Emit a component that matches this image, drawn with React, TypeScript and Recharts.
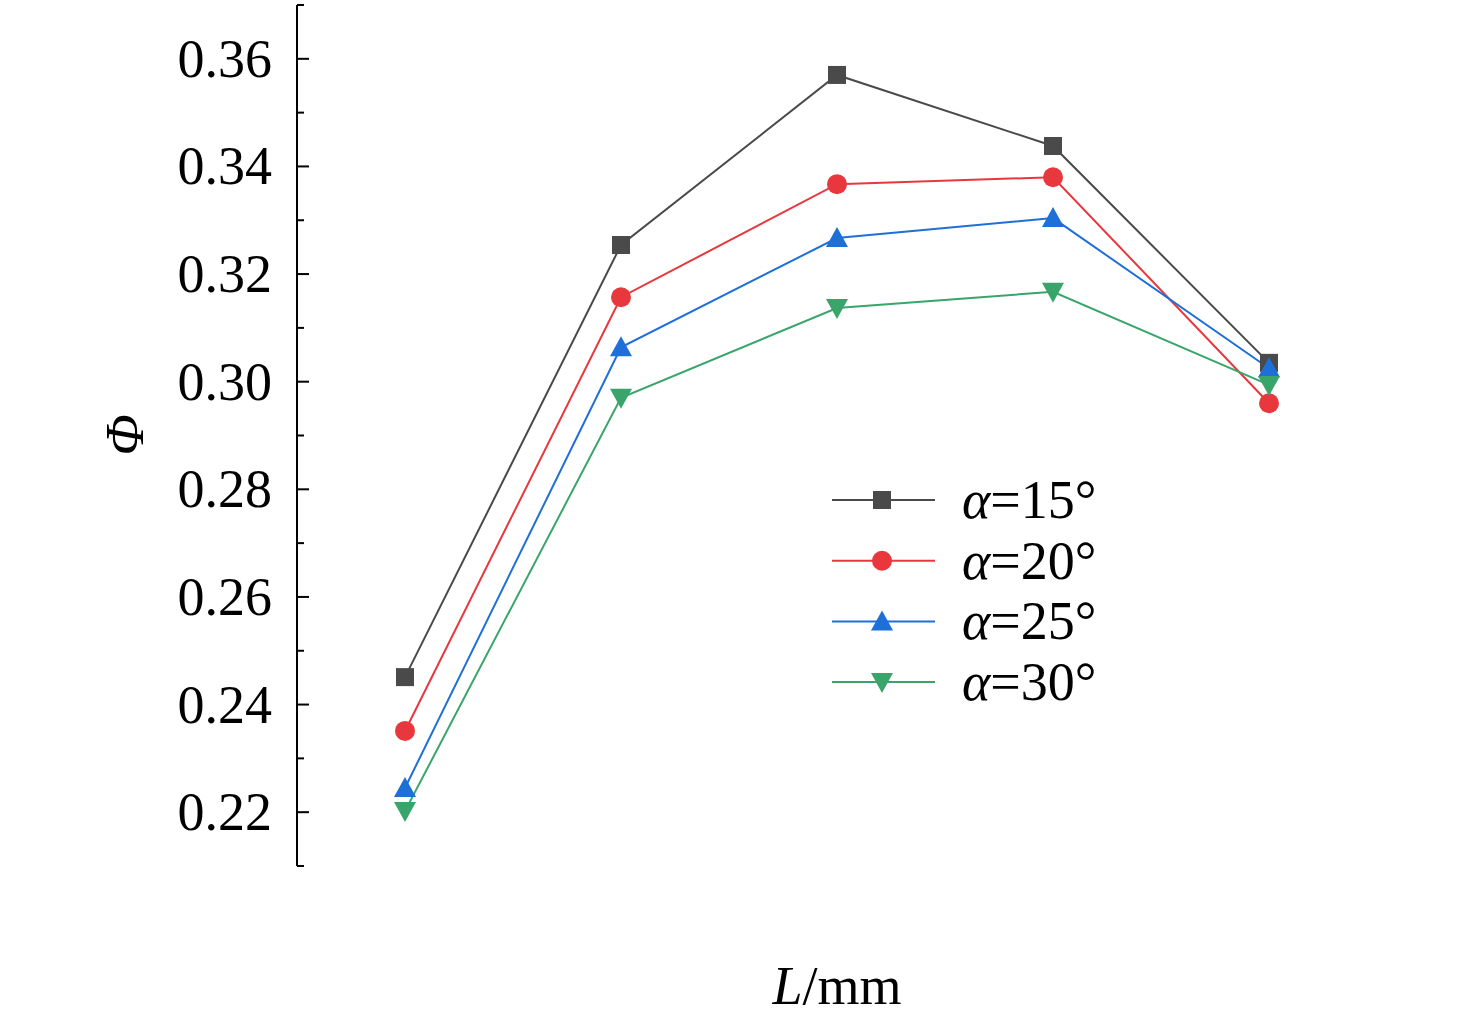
import React from "react";
import { LineChart, Line, XAxis, YAxis } from "recharts";

const lengths = [210, 230, 250, 270, 290];
const phi15 = [0.2451, 0.3254, 0.357, 0.3438, 0.3035];
const phi20 = [0.2351, 0.3157, 0.3367, 0.338, 0.296];
const phi25 = [0.2245, 0.3064, 0.3267, 0.3304, 0.3025];
const phi30 = [0.2202, 0.297, 0.3137, 0.3167, 0.2994];
const xTicks = [210, 220, 230, 240, 250, 260, 270, 280, 290];
const yTicks = [0.21, 0.22, 0.23, 0.24, 0.25, 0.26, 0.27, 0.28, 0.29, 0.3, 0.31, 0.32, 0.33, 0.34, 0.35, 0.36, 0.37];
const labels = ["α=15°", "α=20°", "α=25°", "α=30°"];

const data = lengths.map((L, i) => ({ L, a: phi15[i], b: phi20[i], c: phi25[i], d: phi30[i] }));
const colors = ["#4a4a4a", "#e8383d", "#1f6fd8", "#3aa56b"];
const FONT = "'Liberation Serif', 'Times New Roman', serif";
const FS = 54;

const Marker = ({ kind, cx, cy, color }: any) => {
  const s = 9;
  if (kind === 0) return <rect x={cx - s} y={cy - s} width={2 * s} height={2 * s} fill={color} />;
  if (kind === 1) return <circle cx={cx} cy={cy} r={s + 1} fill={color} />;
  if (kind === 2) return <polygon points={`${cx},${cy - s - 2} ${cx - s - 2},${cy + s} ${cx + s + 2},${cy + s}`} fill={color} />;
  return <polygon points={`${cx},${cy + s + 2} ${cx - s - 2},${cy - s} ${cx + s + 2},${cy - s}`} fill={color} />;
};

const XTick = ({ x, y, payload }: any) => {
  const major = (payload.value - 210) % 20 === 0;
  return (
    <g>
      <line x1={x} x2={x} y1={y} y2={y - (major ? 12 : 7)} stroke="#000" strokeWidth={2} />
      {major && (
        <text x={x} y={y + 70} textAnchor="middle" fontSize={FS} fontFamily={FONT} fill="#000">{payload.value}</text>
      )}
    </g>
  );
};

const YTick = ({ x, y, payload }: any) => {
  const k = Math.round(payload.value * 100);
  const major = k % 2 === 0 && k >= 22 && k <= 36;
  return (
    <g>
      <line x1={x} x2={x + (major ? 12 : 7)} y1={y} y2={y} stroke="#000" strokeWidth={2} />
      {major && (
        <text x={x - 25} y={y + 18} textAnchor="end" fontSize={FS} fontFamily={FONT} fill="#000">{payload.value.toFixed(2)}</text>
      )}
    </g>
  );
};

export default function App() {
  const keys = ["a", "b", "c", "d"];
  return (
    <div style={{ position: "absolute", left: 0, top: 0, width: 1476, height: 1022, background: "#fff" }}>
      <LineChart width={1476} height={1022} data={data} margin={{ top: 5, right: 99, bottom: 156, left: 0 }}>
        <XAxis dataKey="L" type="number" domain={[200, 300]} ticks={xTicks} tickSize={0} tickMargin={0} height={0}
          tick={<XTick />} axisLine={{ stroke: "#000", strokeWidth: 2 }} interval={0} />
        <XAxis xAxisId="top" orientation="top" dataKey="L" type="number" domain={[200, 300]} tick={false} tickLine={false}
          axisLine={{ stroke: "#000", strokeWidth: 2 }} height={0} />
        <YAxis type="number" domain={[0.21, 0.37]} ticks={yTicks} width={297} tickSize={0} tickMargin={0}
          tick={<YTick />} axisLine={{ stroke: "#000", strokeWidth: 2 }} interval={0} />
        <YAxis yAxisId="right" orientation="right" domain={[0.21, 0.37]} tick={false} tickLine={false}
          axisLine={{ stroke: "#000", strokeWidth: 2 }} width={0} />
        {keys.map((k, i) => (
          <Line key={k} dataKey={k} stroke={colors[i]} strokeWidth={2} isAnimationActive={false}
            dot={(p: any) => <Marker key={p.index} kind={i} cx={p.cx} cy={p.cy} color={colors[i]} />} />
        ))}
      </LineChart>
      <div style={{ position: "absolute", left: 125, top: 435, transform: "translate(-50%,-50%) rotate(-90deg)", fontFamily: FONT, fontSize: FS, fontStyle: "italic" }}>Φ</div>
      <div style={{ position: "absolute", left: 837, top: 986, transform: "translate(-50%,-50%)", fontFamily: FONT, fontSize: FS, whiteSpace: "nowrap" }}>
        <i>L</i>/mm
      </div>
      <svg style={{ position: "absolute", left: 0, top: 0 }} width={1476} height={1022}>
        {labels.map((t, i) => {
          const y = 500 + i * 60.7;
          return (
            <g key={t}>
              <line x1={832} x2={935} y1={y} y2={y} stroke={colors[i]} strokeWidth={2} />
              <Marker kind={i} cx={882} cy={y} color={colors[i]} />
              <text x={962} y={y + 18} fontSize={FS} fontFamily={FONT} fill="#000">
                <tspan fontStyle="italic">α</tspan>=
                {t.slice(2)}
              </text>
            </g>
          );
        })}
      </svg>
    </div>
  );
}
